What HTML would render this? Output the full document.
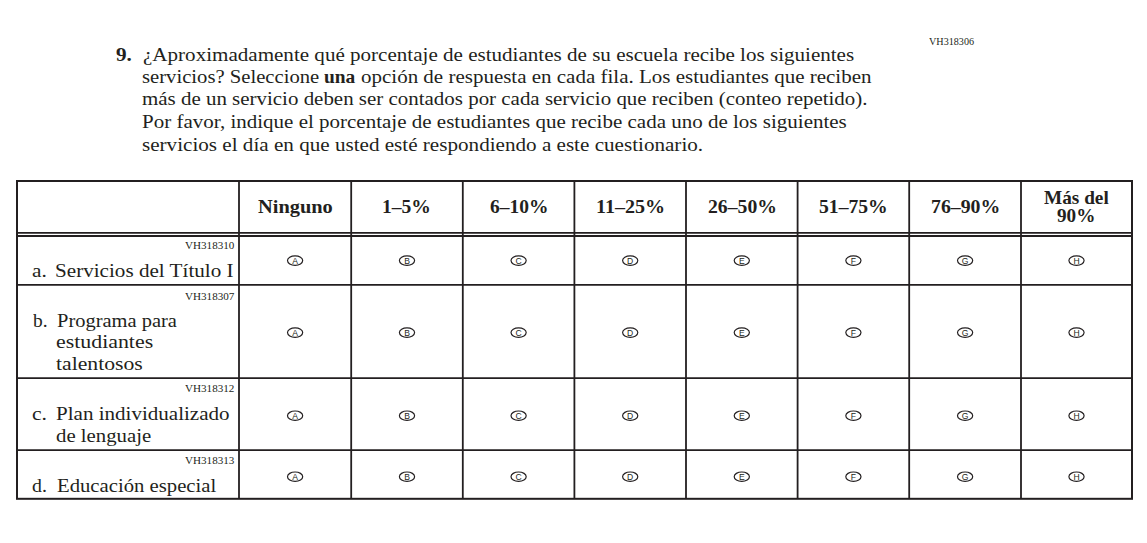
<!DOCTYPE html>
<html><head><meta charset="utf-8"><style>
html,body{margin:0;padding:0;background:#fff;width:1147px;height:543px;overflow:hidden;position:relative}
body{font-family:"Liberation Serif",serif;color:#231f20}
.t{position:absolute;white-space:nowrap}
svg{position:absolute;left:0;top:0}
</style></head><body>
<svg width="1147" height="543" viewBox="0 0 1147 543">
<rect x="17" y="181" width="1115" height="317.8" fill="none" stroke="#231f20" stroke-width="2"/>
<line x1="239" y1="181" x2="239" y2="499" stroke="#231f20" stroke-width="1.8"/>
<line x1="351.2" y1="181" x2="351.2" y2="499" stroke="#231f20" stroke-width="1.8"/>
<line x1="462.8" y1="181" x2="462.8" y2="499" stroke="#231f20" stroke-width="1.8"/>
<line x1="574.4" y1="181" x2="574.4" y2="499" stroke="#231f20" stroke-width="1.8"/>
<line x1="686" y1="181" x2="686" y2="499" stroke="#231f20" stroke-width="1.8"/>
<line x1="797.6" y1="181" x2="797.6" y2="499" stroke="#231f20" stroke-width="1.8"/>
<line x1="909.2" y1="181" x2="909.2" y2="499" stroke="#231f20" stroke-width="1.8"/>
<line x1="1021" y1="181" x2="1021" y2="499" stroke="#231f20" stroke-width="1.8"/>
<line x1="16" y1="232.8" x2="1133" y2="232.8" stroke="#231f20" stroke-width="1.7"/>
<line x1="16" y1="236" x2="1133" y2="236" stroke="#231f20" stroke-width="2"/>
<line x1="16" y1="284.9" x2="1133" y2="284.9" stroke="#231f20" stroke-width="1.7"/>
<line x1="16" y1="378.1" x2="1133" y2="378.1" stroke="#231f20" stroke-width="1.7"/>
<line x1="16" y1="450.1" x2="1133" y2="450.1" stroke="#231f20" stroke-width="1.7"/>
<ellipse cx="295.1" cy="260.6" rx="7.6" ry="4.7" fill="none" stroke="#231f20" stroke-width="1.2"/>
<text x="295.1" y="263.8" text-anchor="middle" font-family="Liberation Sans" font-size="8.6" fill="#231f20">A</text>
<ellipse cx="407.0" cy="260.6" rx="7.6" ry="4.7" fill="none" stroke="#231f20" stroke-width="1.2"/>
<text x="407.0" y="263.8" text-anchor="middle" font-family="Liberation Sans" font-size="8.6" fill="#231f20">B</text>
<ellipse cx="518.6" cy="260.6" rx="7.6" ry="4.7" fill="none" stroke="#231f20" stroke-width="1.2"/>
<text x="518.6" y="263.8" text-anchor="middle" font-family="Liberation Sans" font-size="8.6" fill="#231f20">C</text>
<ellipse cx="630.2" cy="260.6" rx="7.6" ry="4.7" fill="none" stroke="#231f20" stroke-width="1.2"/>
<text x="630.2" y="263.8" text-anchor="middle" font-family="Liberation Sans" font-size="8.6" fill="#231f20">D</text>
<ellipse cx="741.8" cy="260.6" rx="7.6" ry="4.7" fill="none" stroke="#231f20" stroke-width="1.2"/>
<text x="741.8" y="263.8" text-anchor="middle" font-family="Liberation Sans" font-size="8.6" fill="#231f20">E</text>
<ellipse cx="853.4" cy="260.6" rx="7.6" ry="4.7" fill="none" stroke="#231f20" stroke-width="1.2"/>
<text x="853.4" y="263.8" text-anchor="middle" font-family="Liberation Sans" font-size="8.6" fill="#231f20">F</text>
<ellipse cx="965.1" cy="260.6" rx="7.6" ry="4.7" fill="none" stroke="#231f20" stroke-width="1.2"/>
<text x="965.1" y="263.8" text-anchor="middle" font-family="Liberation Sans" font-size="8.6" fill="#231f20">G</text>
<ellipse cx="1076.5" cy="260.6" rx="7.6" ry="4.7" fill="none" stroke="#231f20" stroke-width="1.2"/>
<text x="1076.5" y="263.8" text-anchor="middle" font-family="Liberation Sans" font-size="8.6" fill="#231f20">H</text>
<ellipse cx="295.1" cy="332.6" rx="7.6" ry="4.7" fill="none" stroke="#231f20" stroke-width="1.2"/>
<text x="295.1" y="335.8" text-anchor="middle" font-family="Liberation Sans" font-size="8.6" fill="#231f20">A</text>
<ellipse cx="407.0" cy="332.6" rx="7.6" ry="4.7" fill="none" stroke="#231f20" stroke-width="1.2"/>
<text x="407.0" y="335.8" text-anchor="middle" font-family="Liberation Sans" font-size="8.6" fill="#231f20">B</text>
<ellipse cx="518.6" cy="332.6" rx="7.6" ry="4.7" fill="none" stroke="#231f20" stroke-width="1.2"/>
<text x="518.6" y="335.8" text-anchor="middle" font-family="Liberation Sans" font-size="8.6" fill="#231f20">C</text>
<ellipse cx="630.2" cy="332.6" rx="7.6" ry="4.7" fill="none" stroke="#231f20" stroke-width="1.2"/>
<text x="630.2" y="335.8" text-anchor="middle" font-family="Liberation Sans" font-size="8.6" fill="#231f20">D</text>
<ellipse cx="741.8" cy="332.6" rx="7.6" ry="4.7" fill="none" stroke="#231f20" stroke-width="1.2"/>
<text x="741.8" y="335.8" text-anchor="middle" font-family="Liberation Sans" font-size="8.6" fill="#231f20">E</text>
<ellipse cx="853.4" cy="332.6" rx="7.6" ry="4.7" fill="none" stroke="#231f20" stroke-width="1.2"/>
<text x="853.4" y="335.8" text-anchor="middle" font-family="Liberation Sans" font-size="8.6" fill="#231f20">F</text>
<ellipse cx="965.1" cy="332.6" rx="7.6" ry="4.7" fill="none" stroke="#231f20" stroke-width="1.2"/>
<text x="965.1" y="335.8" text-anchor="middle" font-family="Liberation Sans" font-size="8.6" fill="#231f20">G</text>
<ellipse cx="1076.5" cy="332.6" rx="7.6" ry="4.7" fill="none" stroke="#231f20" stroke-width="1.2"/>
<text x="1076.5" y="335.8" text-anchor="middle" font-family="Liberation Sans" font-size="8.6" fill="#231f20">H</text>
<ellipse cx="295.1" cy="415.7" rx="7.6" ry="4.7" fill="none" stroke="#231f20" stroke-width="1.2"/>
<text x="295.1" y="418.9" text-anchor="middle" font-family="Liberation Sans" font-size="8.6" fill="#231f20">A</text>
<ellipse cx="407.0" cy="415.7" rx="7.6" ry="4.7" fill="none" stroke="#231f20" stroke-width="1.2"/>
<text x="407.0" y="418.9" text-anchor="middle" font-family="Liberation Sans" font-size="8.6" fill="#231f20">B</text>
<ellipse cx="518.6" cy="415.7" rx="7.6" ry="4.7" fill="none" stroke="#231f20" stroke-width="1.2"/>
<text x="518.6" y="418.9" text-anchor="middle" font-family="Liberation Sans" font-size="8.6" fill="#231f20">C</text>
<ellipse cx="630.2" cy="415.7" rx="7.6" ry="4.7" fill="none" stroke="#231f20" stroke-width="1.2"/>
<text x="630.2" y="418.9" text-anchor="middle" font-family="Liberation Sans" font-size="8.6" fill="#231f20">D</text>
<ellipse cx="741.8" cy="415.7" rx="7.6" ry="4.7" fill="none" stroke="#231f20" stroke-width="1.2"/>
<text x="741.8" y="418.9" text-anchor="middle" font-family="Liberation Sans" font-size="8.6" fill="#231f20">E</text>
<ellipse cx="853.4" cy="415.7" rx="7.6" ry="4.7" fill="none" stroke="#231f20" stroke-width="1.2"/>
<text x="853.4" y="418.9" text-anchor="middle" font-family="Liberation Sans" font-size="8.6" fill="#231f20">F</text>
<ellipse cx="965.1" cy="415.7" rx="7.6" ry="4.7" fill="none" stroke="#231f20" stroke-width="1.2"/>
<text x="965.1" y="418.9" text-anchor="middle" font-family="Liberation Sans" font-size="8.6" fill="#231f20">G</text>
<ellipse cx="1076.5" cy="415.7" rx="7.6" ry="4.7" fill="none" stroke="#231f20" stroke-width="1.2"/>
<text x="1076.5" y="418.9" text-anchor="middle" font-family="Liberation Sans" font-size="8.6" fill="#231f20">H</text>
<ellipse cx="295.1" cy="476.7" rx="7.6" ry="4.7" fill="none" stroke="#231f20" stroke-width="1.2"/>
<text x="295.1" y="479.9" text-anchor="middle" font-family="Liberation Sans" font-size="8.6" fill="#231f20">A</text>
<ellipse cx="407.0" cy="476.7" rx="7.6" ry="4.7" fill="none" stroke="#231f20" stroke-width="1.2"/>
<text x="407.0" y="479.9" text-anchor="middle" font-family="Liberation Sans" font-size="8.6" fill="#231f20">B</text>
<ellipse cx="518.6" cy="476.7" rx="7.6" ry="4.7" fill="none" stroke="#231f20" stroke-width="1.2"/>
<text x="518.6" y="479.9" text-anchor="middle" font-family="Liberation Sans" font-size="8.6" fill="#231f20">C</text>
<ellipse cx="630.2" cy="476.7" rx="7.6" ry="4.7" fill="none" stroke="#231f20" stroke-width="1.2"/>
<text x="630.2" y="479.9" text-anchor="middle" font-family="Liberation Sans" font-size="8.6" fill="#231f20">D</text>
<ellipse cx="741.8" cy="476.7" rx="7.6" ry="4.7" fill="none" stroke="#231f20" stroke-width="1.2"/>
<text x="741.8" y="479.9" text-anchor="middle" font-family="Liberation Sans" font-size="8.6" fill="#231f20">E</text>
<ellipse cx="853.4" cy="476.7" rx="7.6" ry="4.7" fill="none" stroke="#231f20" stroke-width="1.2"/>
<text x="853.4" y="479.9" text-anchor="middle" font-family="Liberation Sans" font-size="8.6" fill="#231f20">F</text>
<ellipse cx="965.1" cy="476.7" rx="7.6" ry="4.7" fill="none" stroke="#231f20" stroke-width="1.2"/>
<text x="965.1" y="479.9" text-anchor="middle" font-family="Liberation Sans" font-size="8.6" fill="#231f20">G</text>
<ellipse cx="1076.5" cy="476.7" rx="7.6" ry="4.7" fill="none" stroke="#231f20" stroke-width="1.2"/>
<text x="1076.5" y="479.9" text-anchor="middle" font-family="Liberation Sans" font-size="8.6" fill="#231f20">H</text>
</svg>
<div class="t" style="left:928.65px;top:36.00px;font-size:10.8px;line-height:10.8px;letter-spacing:0.000px;transform:scaleX(0.9385);transform-origin:0 0">VH318306</div>
<div class="t" style="left:115.50px;top:45.00px;font-size:19.5px;line-height:19.5px;letter-spacing:0.000px;transform:scaleX(1.0857);transform-origin:0 0;font-weight:bold">9.</div>
<div class="t" style="left:142.65px;top:46.00px;font-size:18.5px;line-height:18.5px;letter-spacing:0.000px;transform:scaleX(1.1385);transform-origin:0 0">¿Aproximadamente qué porcentaje de estudiantes de su escuela recibe los siguientes</div>
<div class="t" style="left:141.75px;top:68.20px;font-size:18.5px;line-height:18.5px;letter-spacing:0.000px;transform:scaleX(1.1168);transform-origin:0 0">servicios? Seleccione</div>
<div class="t" style="left:324.35px;top:68.20px;font-size:18.5px;line-height:18.5px;letter-spacing:0.000px;transform:scaleX(1.0500);transform-origin:0 0;font-weight:bold">una</div>
<div class="t" style="left:360.65px;top:68.20px;font-size:18.5px;line-height:18.5px;letter-spacing:0.000px;transform:scaleX(1.1344);transform-origin:0 0">opción de respuesta en cada fila. Los estudiantes que reciben</div>
<div class="t" style="left:141.75px;top:90.40px;font-size:18.5px;line-height:18.5px;letter-spacing:0.000px;transform:scaleX(1.1317);transform-origin:0 0">más de un servicio deben ser contados por cada servicio que reciben (conteo repetido).</div>
<div class="t" style="left:141.75px;top:112.60px;font-size:18.5px;line-height:18.5px;letter-spacing:0.000px;transform:scaleX(1.1352);transform-origin:0 0">Por favor, indique el porcentaje de estudiantes que recibe cada uno de los siguientes</div>
<div class="t" style="left:141.75px;top:136.00px;font-size:18.5px;line-height:18.5px;letter-spacing:0.000px;transform:scaleX(1.1413);transform-origin:0 0">servicios el día en que usted esté respondiendo a este cuestionario.</div>
<div class="t" style="left:257.95px;top:197.00px;font-size:19px;line-height:19px;letter-spacing:0.000px;transform:scaleX(1.0732);transform-origin:0 0;font-weight:bold">Ninguno</div>
<div class="t" style="left:382.32px;top:197.00px;font-size:19px;line-height:19px;letter-spacing:0.000px;transform:scaleX(1.0300);transform-origin:0 0;font-weight:bold">1–5%</div>
<div class="t" style="left:489.65px;top:197.00px;font-size:19px;line-height:19px;letter-spacing:0.000px;transform:scaleX(1.0250);transform-origin:0 0;font-weight:bold">6–10%</div>
<div class="t" style="left:595.74px;top:197.00px;font-size:19px;line-height:19px;letter-spacing:-0.000px;transform:scaleX(1.0571);transform-origin:0 0;font-weight:bold">11–25%</div>
<div class="t" style="left:707.80px;top:197.00px;font-size:19px;line-height:19px;letter-spacing:0.000px;transform:scaleX(1.0362);transform-origin:0 0;font-weight:bold">26–50%</div>
<div class="t" style="left:819.20px;top:197.00px;font-size:19px;line-height:19px;letter-spacing:0.000px;transform:scaleX(1.0338);transform-origin:0 0;font-weight:bold">51–75%</div>
<div class="t" style="left:930.66px;top:197.00px;font-size:19px;line-height:19px;letter-spacing:0.000px;transform:scaleX(1.0422);transform-origin:0 0;font-weight:bold">76–90%</div>
<div class="t" style="left:1043.80px;top:187.90px;font-size:19px;line-height:19px;letter-spacing:0.000px;transform:scaleX(1.0141);transform-origin:0 0;font-weight:bold">Más del</div>
<div class="t" style="left:1056.90px;top:206.00px;font-size:19px;line-height:19px;letter-spacing:-0.000px;transform:scaleX(1.0095);transform-origin:0 0;font-weight:bold">90%</div>
<div class="t" style="left:184.75px;top:240.00px;font-size:10.8px;line-height:10.8px;letter-spacing:0.000px;transform:scaleX(1.0281);transform-origin:0 0">VH318310</div>
<div class="t" style="left:32.20px;top:261.80px;font-size:18.5px;line-height:18.5px;letter-spacing:0.000px;transform:scaleX(1.1500);transform-origin:0 0">a.</div>
<div class="t" style="left:55.46px;top:261.80px;font-size:18.5px;line-height:18.5px;letter-spacing:0.000px;transform:scaleX(1.1419);transform-origin:0 0">Servicios del Título I</div>
<div class="t" style="left:184.75px;top:290.60px;font-size:10.8px;line-height:10.8px;letter-spacing:0.000px;transform:scaleX(1.0281);transform-origin:0 0">VH318307</div>
<div class="t" style="left:33.10px;top:312.30px;font-size:18.5px;line-height:18.5px;letter-spacing:0.000px;transform:scaleX(1.0500);transform-origin:0 0">b.</div>
<div class="t" style="left:57.20px;top:312.30px;font-size:18.5px;line-height:18.5px;letter-spacing:-0.000px;transform:scaleX(1.1065);transform-origin:0 0">Programa para</div>
<div class="t" style="left:55.75px;top:333.20px;font-size:18.5px;line-height:18.5px;letter-spacing:0.000px;transform:scaleX(1.1817);transform-origin:0 0">estudiantes</div>
<div class="t" style="left:55.75px;top:354.60px;font-size:18.5px;line-height:18.5px;letter-spacing:0.000px;transform:scaleX(1.1730);transform-origin:0 0">talentosos</div>
<div class="t" style="left:184.75px;top:382.90px;font-size:10.8px;line-height:10.8px;letter-spacing:0.000px;transform:scaleX(1.0281);transform-origin:0 0">VH318312</div>
<div class="t" style="left:31.95px;top:405.30px;font-size:18.5px;line-height:18.5px;letter-spacing:0.000px;transform:scaleX(1.1708);transform-origin:0 0">c.</div>
<div class="t" style="left:55.65px;top:405.30px;font-size:18.5px;line-height:18.5px;letter-spacing:0.000px;transform:scaleX(1.1375);transform-origin:0 0">Plan individualizado</div>
<div class="t" style="left:55.65px;top:426.70px;font-size:18.5px;line-height:18.5px;letter-spacing:0.000px;transform:scaleX(1.1232);transform-origin:0 0">de lenguaje</div>
<div class="t" style="left:184.75px;top:454.80px;font-size:10.8px;line-height:10.8px;letter-spacing:0.000px;transform:scaleX(1.0281);transform-origin:0 0">VH318313</div>
<div class="t" style="left:32.05px;top:477.30px;font-size:18.5px;line-height:18.5px;letter-spacing:0.000px;transform:scaleX(1.0731);transform-origin:0 0">d.</div>
<div class="t" style="left:56.90px;top:477.30px;font-size:18.5px;line-height:18.5px;letter-spacing:0.000px;transform:scaleX(1.1194);transform-origin:0 0">Educación especial</div>
</body></html>
